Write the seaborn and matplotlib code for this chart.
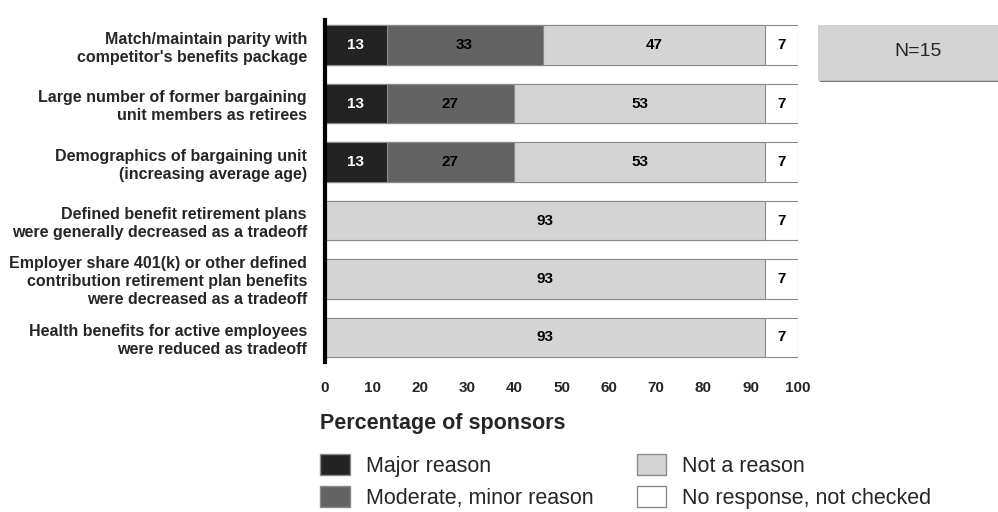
import pandas as pd
import matplotlib
matplotlib.use("Agg")
import matplotlib.pyplot as plt
import seaborn as sns
from matplotlib.patches import Patch, Rectangle

# Chart data
reasons = [
    "Match/maintain parity with\ncompetitor's benefits package",
    "Large number of former bargaining\nunit members as retirees",
    "Demographics of bargaining unit\n(increasing average age)",
    "Defined benefit retirement plans\nwere generally decreased as a tradeoff",
    "Employer share 401(k) or other defined\ncontribution retirement plan benefits\nwere decreased as a tradeoff",
    "Health benefits for active employees\nwere reduced as tradeoff",
]
major = [13, 13, 13, 0, 0, 0]
moderate = [33, 27, 27, 0, 0, 0]
not_reason = [47, 53, 53, 93, 93, 93]
no_response = [7, 7, 7, 7, 7, 7]

categories = ["Major reason", "Moderate, minor reason", "Not a reason", "No response, not checked"]
colors = ["#232323", "#636363", "#d4d4d4", "#ffffff"]
xticks = list(range(0, 101, 10))

sns.set_style("white")
plt.rcParams["font.family"] = ["Liberation Sans", "DejaVu Sans"]

df = pd.DataFrame({"reason": reasons, "Major reason": major,
                   "Moderate, minor reason": moderate,
                   "Not a reason": not_reason,
                   "No response, not checked": no_response})
# cumulative totals so the bars can be layered back to front
cum = df[categories].cumsum(axis=1)

fig = plt.figure(figsize=(9.98, 5.12), dpi=100)
ax = fig.add_axes([0.3257, 0.293, 0.474, 0.668])

for cat, col in reversed(list(zip(categories, colors))):
    sns.barplot(x=cum[cat], y=df["reason"], color=col, orient="h", width=0.68,
                edgecolor="#8a8a8a", linewidth=0.8, ax=ax)

# value labels centred in each segment
for i in range(len(df)):
    start = 0
    for cat in categories:
        v = df.loc[i, cat]
        if v > 0:
            tc = "white" if cat == "Major reason" else "black"
            ax.text(start + v / 2, i, str(v), ha="center", va="center",
                    fontsize=11, fontweight="bold", color=tc)
        start += v

ax.set_xlim(0, 100)
ax.set_ylim(5.42, -0.43)
ax.set_xticks(xticks)
ax.set_xticklabels([str(t) for t in xticks], fontsize=11, fontweight="bold")
ax.set_yticks(range(len(reasons)))
ax.set_yticklabels(reasons, fontsize=11.5, fontweight="bold", linespacing=1.25)
ax.tick_params(axis="x", length=0, pad=14)
ax.tick_params(axis="y", length=0, pad=13)
ax.set_xlabel("")
ax.set_ylabel("")
sns.despine(ax=ax, top=True, right=True, bottom=True, left=False)
ax.spines["left"].set_color("black")
ax.spines["left"].set_linewidth(3)

fig.text(320 / 998, 1 - 423 / 512, "Percentage of sponsors", fontsize=15.5,
         fontweight="bold", ha="left", va="center")

# N box with a shadow
fig.patches.append(Rectangle((820 / 998, 1 - 82 / 512), 180 / 998, 55 / 512,
                             transform=fig.transFigure, facecolor="#7a7a7a",
                             edgecolor="none", zorder=0))
fig.patches.append(Rectangle((818 / 998, 1 - 80 / 512), 182 / 998, 55 / 512,
                             transform=fig.transFigure, facecolor="#d4d4d4",
                             edgecolor="#c8c8c8", linewidth=0.5, zorder=1))
fig.text(918 / 998, 1 - 52 / 512, "N=15", fontsize=14, ha="center", va="center")

handles = [Patch(facecolor=c, edgecolor="#8a8a8a", label=l) for c, l in zip(colors, categories)]
fig.legend(handles=handles, ncol=2, loc="upper left",
           bbox_to_anchor=(320 / 998, 1 - 454 / 512), frameon=False,
           fontsize=15.5, handlelength=1.38, handleheight=1.1, handletextpad=0.75,
           columnspacing=2.0, labelspacing=0.45, borderaxespad=0, borderpad=0)

fig.savefig("out.png", dpi=100)
